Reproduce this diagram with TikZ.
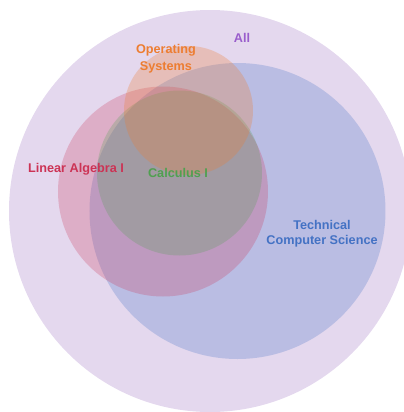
\documentclass[tikz,border=0pt]{standalone}
\usepackage{fontspec}
\setmainfont{Liberation Sans}
\definecolor{allfill}{HTML}{E4D8EE}
\definecolor{alltxt}{HTML}{9A5ECC}
\definecolor{tcsc}{HTML}{4472C4}
\definecolor{lac}{HTML}{CC3355}
\definecolor{calcc}{HTML}{50A050}
\definecolor{osc}{HTML}{ED7D31}
\begin{document}
\begin{tikzpicture}[x=0.75pt,y=-0.75pt,
  lbl/.style={font=\bfseries\fontsize{9.5}{11.5}\selectfont, align=center, inner sep=0pt},
  setfill/.style={fill=#1, fill opacity=0.25}]
\useasboundingbox (0,0) rectangle (404,412);
\begin{scope}
  \clip (0,0) rectangle (404,412);
  \fill[allfill] (210,211) circle[radius=201];
\end{scope}
\fill[setfill=tcsc, fill opacity=0.26] (237.5,211) circle[radius=148];
\fill[setfill=lac] (163,191.5) circle[radius=105];
\fill[setfill=calcc] (179.5,173) circle[radius=82.5];
\fill[setfill=osc, fill opacity=0.28] (188.5,110.5) circle[radius=64.5];
\node[lbl, text=alltxt] (all) at (242,38) {All};
\node[lbl, text=osc, font=\bfseries\fontsize{9.5}{12.75}\selectfont] (os) at (166,59) {Operating\\Systems};
\node[lbl, text=lac] (la) at (76,169) {Linear Algebra I};
\node[lbl, text=calcc] (calc) at (178,172.5) {Calculus I};
\node[lbl, text=tcsc] (tcs) at (322,234) {Technical\\Computer Science};
\end{tikzpicture}
\end{document}
